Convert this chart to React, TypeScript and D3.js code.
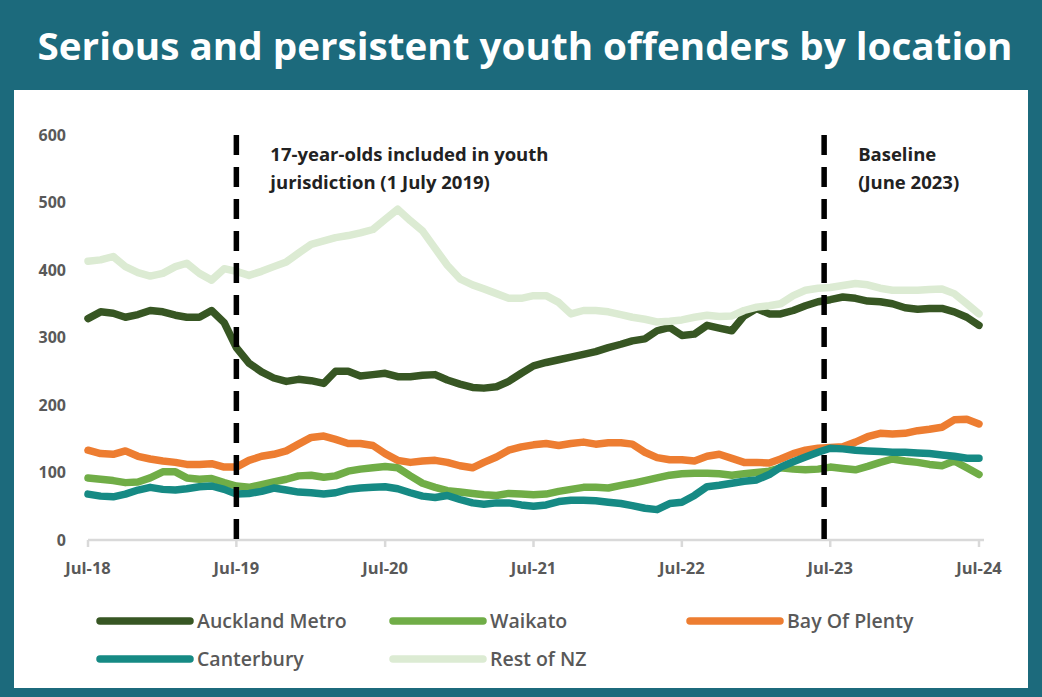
import { useEffect, useRef } from "react";
import * as d3 from "d3";

// monthly series, Jul-18 .. Jul-24
const months = d3.timeMonth.range(new Date(2018, 6, 1), new Date(2024, 7, 1));

const aucklandMetro = [
  328, 338, 336, 330, 334, 340, 338, 333, 330, 330, 340, 322,
  285, 262, 249, 240, 235, 238, 236, 232, 250, 250, 243, 245,
  247, 242, 242, 244, 245, 237, 231, 226, 225, 227, 235, 247,
  258, 263, 267, 271, 275, 279, 285, 290, 295, 298, 310, 315,
  303, 305, 318, 314, 310, 332, 343, 335, 335, 340, 347, 353,
  356, 360, 358, 354, 353, 350, 344, 342, 343, 343, 338, 330, 318,
];
const waikato = [
  92, 90, 88, 85, 86, 92, 101, 101, 92, 90, 91, 85,
  80, 78, 82, 86, 90, 95, 96, 93, 95, 102, 105, 107,
  109, 107, 95, 84, 78, 73, 71, 69, 67, 66, 69, 68,
  67, 68, 72, 75, 78, 78, 77, 81, 84, 88, 92, 96,
  98, 99, 99, 98, 96, 98, 100, 102, 107, 105, 104, 105,
  108, 106, 104, 109, 115, 120, 117, 115, 112, 110, 117, 107, 97,
];
const bayOfPlenty = [
  133, 128, 127, 132, 124, 120, 117, 115, 112, 112, 113, 108,
  108, 118, 124, 127, 132, 142, 152, 154, 149, 143, 143, 140,
  128, 118, 115, 117, 118, 115, 110, 107, 115, 123, 133, 138,
  141, 143, 140, 143, 145, 142, 144, 144, 142, 130, 122, 119,
  119, 117, 124, 127, 121, 115, 115, 114, 120, 128, 133, 136,
  137, 138, 145, 153, 158, 157, 158, 162, 164, 167, 178, 179, 172,
];
const canterbury = [
  68, 65, 64, 68, 74, 78, 75, 74, 76, 79, 80, 75,
  68, 69, 72, 77, 74, 71, 70, 68, 70, 75, 77, 78,
  79, 76, 70, 65, 63, 66, 60, 55, 53, 55, 55, 52,
  50, 52, 57, 59, 59, 58, 56, 54, 51, 47, 45, 54,
  56, 66, 79, 81, 84, 87, 89, 97, 108, 116, 123, 130,
  136, 135, 133, 132, 131, 130, 130, 129, 128, 126, 124, 121, 121,
];
const restOfNZ = [
  413, 415, 420, 405, 396, 391, 395, 405, 410, 395, 385, 402,
  398, 392, 398, 405, 412, 425, 438, 443, 448, 451, 455, 460,
  475, 490, 473, 458, 432, 407, 387, 378, 372, 365, 358, 358,
  362, 362, 352, 335, 340, 340, 338, 334, 330, 327, 323, 324,
  326, 330, 333, 331, 332, 340, 345, 347, 350, 362, 370, 373,
  374, 377, 380, 378, 373, 370, 370, 370, 371, 372, 365, 350, 335,
];

const seriesNames = ["Auckland Metro", "Waikato", "Bay Of Plenty", "Canterbury", "Rest of NZ"];
const seriesValues = [aucklandMetro, waikato, bayOfPlenty, canterbury, restOfNZ];
const seriesColors = ["#375623", "#70ad47", "#ed7d31", "#168a84", "#dcebd3"];

const yTicks = [0, 100, 200, 300, 400, 500, 600];
const xTickDates = months.filter((d, i) => i % 12 === 0);

const markerDates = [new Date(2019, 6, 1), new Date(2023, 5, 16)];
const markerNotes = [
  ["17-year-olds included in youth", "jurisdiction (1 July 2019)"],
  ["Baseline", "(June 2023)"],
];

const title = "Serious and persistent youth offenders by location";

const W = 1042;
const H = 697;
const FONT = "'Open Sans', 'Noto Sans', sans-serif";

export default function App() {
  const ref = useRef<SVGSVGElement>(null);

  useEffect(() => {
    const svg = d3.select(ref.current);
    svg.selectAll("*").remove();

    // frame + title
    svg.append("rect").attr("width", W).attr("height", H).attr("fill", "#1c6a7c");
    svg.append("rect")
      .attr("x", 14).attr("y", 90)
      .attr("width", 1014).attr("height", 598)
      .attr("fill", "#ffffff");
    svg.append("text")
      .attr("x", 525).attr("y", 60)
      .attr("text-anchor", "middle")
      .attr("font-family", FONT)
      .attr("font-weight", 700)
      .attr("font-size", 38)
      .attr("fill", "#ffffff")
      .attr("textLength", 975)
      .attr("lengthAdjust", "spacingAndGlyphs")
      .text(title);

    const x = d3.scaleTime()
      .domain([months[0], months[months.length - 1]])
      .range([88, 979]);
    const y = d3.scaleLinear().domain([0, 600]).range([540, 135]);

    // y labels (no axis line)
    svg.append("g")
      .selectAll("text")
      .data(yTicks)
      .join("text")
      .attr("x", 66)
      .attr("y", d => y(d))
      .attr("dy", "0.35em")
      .attr("text-anchor", "end")
      .attr("font-family", FONT)
      .attr("font-weight", 700)
      .attr("font-size", 16)
      .attr("fill", "#595959")
      .text(d => d);

    // x axis
    const xAxis = svg.append("g").attr("transform", `translate(0,${y(0)})`);
    xAxis.append("line")
      .attr("x1", x(months[0])).attr("x2", x(months[months.length - 1]) + 5)
      .attr("stroke", "#d9d9d9").attr("stroke-width", 2.5);
    xAxis.selectAll("line.tick")
      .data(xTickDates)
      .join("line")
      .attr("class", "tick")
      .attr("x1", d => x(d)).attr("x2", d => x(d))
      .attr("y1", 0).attr("y2", 7)
      .attr("stroke", "#d9d9d9").attr("stroke-width", 2.5);
    xAxis.selectAll("text")
      .data(xTickDates)
      .join("text")
      .attr("x", d => x(d))
      .attr("y", 34)
      .attr("text-anchor", "middle")
      .attr("font-family", FONT)
      .attr("font-weight", 700)
      .attr("font-size", 16.5)
      .attr("fill", "#595959")
      .text(d => d3.timeFormat("%b-%y")(d));

    // series lines
    const line = d3.line<number>()
      .x((d, i) => x(months[i]))
      .y(d => y(d));
    svg.append("g")
      .selectAll("path")
      .data(seriesValues)
      .join("path")
      .attr("d", d => line(d))
      .attr("fill", "none")
      .attr("stroke", (d, i) => seriesColors[i])
      .attr("stroke-width", 7.5)
      .attr("stroke-linejoin", "round")
      .attr("stroke-linecap", "round");

    // marker lines + notes
    const mk = svg.append("g");
    markerDates.forEach((d, i) => {
      mk.append("line")
        .attr("x1", x(d)).attr("x2", x(d))
        .attr("y1", y(600)).attr("y2", y(0))
        .attr("stroke", "#000")
        .attr("stroke-width", 5.5)
        .attr("stroke-dasharray", "20 12");
      const t = mk.append("text")
        .attr("x", x(d) + 34)
        .attr("y", 161)
        .attr("font-family", FONT)
        .attr("font-weight", 700)
        .attr("font-size", 18.5)
        .attr("fill", "#222");
      markerNotes[i].forEach((s, j) => {
        t.append("tspan").attr("x", x(d) + 34).attr("dy", j === 0 ? 0 : 28).text(s);
      });
    });

    // legend
    const colX = [100, 393, 690];
    const rowY = [621, 659];
    const lg = svg.append("g");
    seriesNames.forEach((name, i) => {
      const lx = colX[i % 3];
      const ly = rowY[Math.floor(i / 3)];
      lg.append("line")
        .attr("x1", lx).attr("x2", lx + 90)
        .attr("y1", ly).attr("y2", ly)
        .attr("stroke", seriesColors[i])
        .attr("stroke-width", 7.5)
        .attr("stroke-linecap", "round");
      lg.append("text")
        .attr("x", lx + 97)
        .attr("y", ly)
        .attr("dy", "0.35em")
        .attr("font-family", FONT)
        .attr("font-weight", 600)
        .attr("font-size", 19.5)
        .attr("fill", "#595959")
        .text(name);
    });
  }, []);

  return (
    <svg
      ref={ref}
      width={W}
      height={H}
      style={{ position: "absolute", left: 0, top: 0, display: "block" }}
    />
  );
}
